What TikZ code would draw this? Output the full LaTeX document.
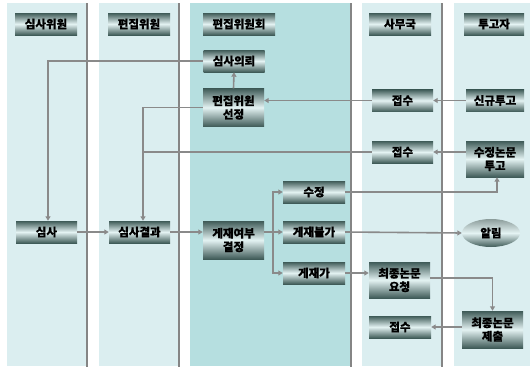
\documentclass[tikz,border=0pt]{standalone}
\usepackage{fontspec}
\newfontfamily\krb{Noto Sans CJK KR Bold}[FakeBold=0.6]
\usetikzlibrary{arrows.meta,shapes.geometric}
\definecolor{lanelight}{HTML}{DBEEF0}
\definecolor{lanedark}{HTML}{B6DFE0}
\definecolor{sepgray}{HTML}{858585}
\definecolor{boxdark}{HTML}{3F5B58}
\definecolor{boxlight}{HTML}{E4F3F3}
\definecolor{linegray}{HTML}{8A8A8A}
\tikzset{
  box/.style={rectangle, minimum width=61pt, minimum height=22pt, inner sep=0pt,
    top color=boxdark, bottom color=boxdark, middle color=boxlight,
    font=\krb\bfseries\fontsize{11.5}{13.5}\selectfont, align=center, text=black},
  oval/.style={ellipse, minimum width=58pt, minimum height=28pt, inner sep=0pt,
    top color=boxdark!60, bottom color=boxdark, middle color=boxlight,
    font=\krb\bfseries\fontsize{11.5}{13.5}\selectfont, text=black},
  conn/.style={draw=linegray, line width=1.6pt},
  arr/.style={conn, -{Triangle[length=4.5pt,width=5pt]}},
  sep/.style={draw=sepgray, line width=1.8pt}
}
\begin{document}
\begin{tikzpicture}[x=1pt,y=-1pt]
\useasboundingbox (0,0) rectangle (530,367);
\fill[white] (0,0) rectangle (530,367);
% lanes
\fill[lanelight] (7,3) rectangle (87,366);
\fill[lanelight] (99,3) rectangle (179,366);
\fill[lanedark] (190,3) rectangle (351,366);
\fill[lanelight] (362,3) rectangle (442,366);
\fill[lanelight] (454,3) rectangle (530,366);
\draw[sep] (87,3) -- (87,367);
\draw[sep] (179,3) -- (179,367);
\draw[sep] (351,3) -- (351,367);
\draw[sep] (442,3) -- (442,367);
% headers
\node[box, minimum width=62pt] (h1) at (46,24) {심사위원};
\node[box, minimum width=62pt] (h2) at (139,24) {편집위원};
\node[box, minimum width=72pt] (h3) at (239,24) {편집위원회};
\node[box, minimum width=62pt] (h4) at (400,24) {사무국};
\node[box, minimum width=60pt] (h5) at (494,24) {투고자};
% nodes
\node[box] (req) at (234,61) {심사의뢰};
\node[box, minimum height=38pt] (sel) at (233.5,107.5) {편집위원\\선정};
\node[box] (rc1) at (402.5,100.5) {접수};
\node[box, minimum width=58pt] (new) at (495,100.5) {신규투고};
\node[box] (rc2) at (402.5,152) {접수};
\node[box, minimum width=58pt, minimum height=36pt] (rev) at (495,159) {수정논문\\투고};
\node[box, minimum width=62pt] (mod) at (314,192) {수정};
\node[box, minimum width=62pt] (rej) at (314,232) {게재불가};
\node[oval] (alr) at (491,233) {알림};
\node[box] (rvw) at (46.5,232) {심사};
\node[box] (res) at (139.5,232) {심사결과};
\node[box, minimum height=38pt] (dec) at (233.5,240) {게재여부\\결정};
\node[box, minimum width=62pt] (acc) at (314,273) {게재가};
\node[box, minimum height=36pt] (fin) at (399.5,280) {최종논문\\요청};
\node[box, minimum width=62pt] (rc3) at (400,327) {접수};
\node[box, minimum height=37pt] (sub) at (492.5,329.5) {최종논문\\제출};
% helper coordinates
\coordinate (c1) at (143,107.5);
\coordinate (sp) at (273,232);
% connectors
\draw[arr] (req.west) -| ([xshift=1.5pt]rvw.north);
\draw[arr] (sel.north) -- (req.south);
\draw[arr] (sel.west) -- (c1) -- (c1 |- res.north);
\draw[arr] (rc1.west) -- (rc1 -| sel.east);
\draw[arr] (new.west) -- (rc1.east);
\draw[arr] (rc2 -| rev.west) -- (rc2.east);
\draw[conn] (rc2.west) -- (rc2 -| c1);
\draw[arr] (rvw.east) -- (res.west);
\draw[arr] (res.east) -- (res -| dec.west);
\draw[conn] (res -| dec.east) -- (sp);
\draw[arr] (sp) |- (mod.west);
\draw[arr] (sp) -- (rej.west);
\draw[arr] (sp) |- (acc.west);
\draw[arr] (mod.east) -| ([xshift=2pt]rev.south);
\draw[arr] (rej.east) -- (alr.west);
\draw[arr] (acc.east) -- (acc -| fin.west);
\draw[arr] ([yshift=2pt]fin.east) -| (sub.north);
\draw[arr] (rc3 -| sub.west) -- (rc3.east);
\end{tikzpicture}
\end{document}
